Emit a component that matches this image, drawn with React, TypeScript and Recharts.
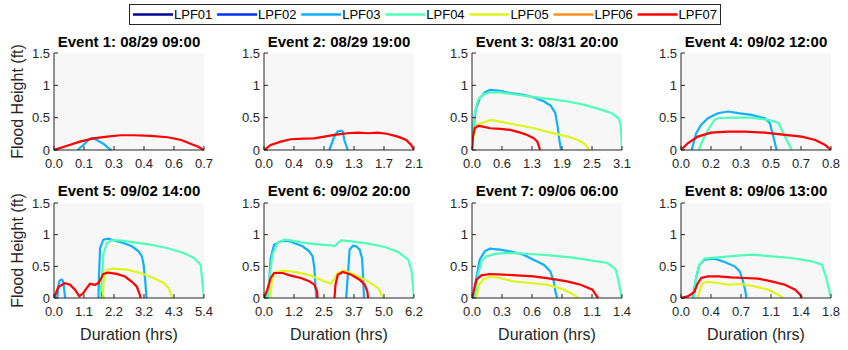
import React from 'react';
import { LineChart, Line, XAxis, YAxis, CartesianGrid, Label } from 'recharts';

const FONT = '"Liberation Sans", Arial, Helvetica, sans-serif';

const SERIES = ['LPF01', 'LPF02', 'LPF03', 'LPF04', 'LPF05', 'LPF06', 'LPF07'];
const COLORS = ['#000090', '#0030ff', '#10b0ff', '#50ffb8', '#e0f520', '#ff9020', '#ff0000'];

const EVENT_TITLES = [
  'Event 1: 08/29 09:00',
  'Event 2: 08/29 19:00',
  'Event 3: 08/31 20:00',
  'Event 4: 09/02 12:00',
  'Event 5: 09/02 14:00',
  'Event 6: 09/02 20:00',
  'Event 7: 09/06 06:00',
  'Event 8: 09/06 13:00',
];
const EVENT_MAX_HRS = [0.7, 2.14, 3.14, 0.83, 5.4, 6.2, 1.4, 1.8];
const X_TICK_LABELS = [
  ['0.0', '0.1', '0.3', '0.4', '0.6', '0.7'],
  ['0.0', '0.4', '0.9', '1.3', '1.7', '2.1'],
  ['0.0', '0.6', '1.3', '1.9', '2.5', '3.1'],
  ['0.0', '0.2', '0.3', '0.5', '0.7', '0.8'],
  ['0.0', '1.1', '2.2', '3.2', '4.3', '5.4'],
  ['0.0', '1.2', '2.5', '3.7', '5.0', '6.2'],
  ['0.0', '0.3', '0.6', '0.8', '1.1', '1.4'],
  ['0.0', '0.4', '0.7', '1.1', '1.4', '1.8'],
];
const Y_TICKS = [0, 0.5, 1, 1.5];
const Y_TICK_LABELS = ['0', '0.5', '1', '1.5'];
const Y_LABEL = 'Flood Height (ft)';
const X_LABEL = 'Duration (hrs)';

type Pt = [number, number | null];

// Event 1
const ev1_lpf03: Pt[] = [[0.110, 0], [0.137, 0.078], [0.161, 0.155], [0.177, 0.186], [0.200, 0.155], [0.232, 0.093], [0.255, 0.026], [0.268, 0]];
const ev1_lpf07: Pt[] = [[0, 0], [0.058, 0.062], [0.121, 0.13], [0.184, 0.18], [0.248, 0.207], [0.31, 0.228], [0.374, 0.228], [0.452, 0.217], [0.531, 0.197], [0.594, 0.155], [0.634, 0.10], [0.673, 0.05], [0.7, 0]];
// Event 2
const ev2_lpf03: Pt[] = [[0.931, 0], [1.003, 0.207], [1.051, 0.285], [1.099, 0.30], [1.123, 0.285], [1.146, 0.155], [1.194, 0]];
const ev2_lpf07: Pt[] = [[0, 0], [0.096, 0.078], [0.239, 0.129], [0.382, 0.166], [0.573, 0.176], [0.717, 0.181], [0.86, 0.207], [1.003, 0.233], [1.194, 0.259], [1.338, 0.269], [1.481, 0.259], [1.624, 0.269], [1.767, 0.248], [1.911, 0.207], [2.03, 0.155], [2.10, 0.078], [2.14, 0]];
// Event 3
const ev3_lpf03: Pt[] = [[0, 0], [0.035, 0.362], [0.078, 0.621], [0.163, 0.80], [0.269, 0.89], [0.376, 0.931], [0.588, 0.916], [0.801, 0.879], [1.084, 0.854], [1.297, 0.812], [1.51, 0.75], [1.652, 0.683], [1.744, 0.569], [1.793, 0.362], [1.829, 0.155], [1.864, 0]];
const ev3_lpf04: Pt[] = [[0, 0], [0.021, 0.31], [0.057, 0.569], [0.128, 0.776], [0.234, 0.854], [0.376, 0.89], [0.588, 0.89], [0.943, 0.854], [1.297, 0.817], [1.652, 0.786], [2.006, 0.75], [2.36, 0.698], [2.715, 0.621], [2.927, 0.569], [3.069, 0.491], [3.105, 0.414], [3.126, 0.207], [3.14, 0]];
const ev3_lpf05: Pt[] = [[0, 0], [0.035, 0.259], [0.092, 0.388], [0.234, 0.424], [0.411, 0.466], [0.588, 0.44], [0.943, 0.388], [1.297, 0.336], [1.652, 0.269], [2.006, 0.207], [2.219, 0.155], [2.36, 0.093], [2.452, 0]];
const ev3_lpf07: Pt[] = [[0, 0], [0.021, 0.207], [0.057, 0.336], [0.128, 0.372], [0.234, 0.362], [0.376, 0.336], [0.588, 0.326], [0.801, 0.31], [1.014, 0.269], [1.155, 0.233], [1.297, 0.181], [1.368, 0.129], [1.403, 0.052], [1.425, 0]];
// Event 4
const ev4_lpf03: Pt[] = [[0.059, 0], [0.084, 0.259], [0.111, 0.388], [0.149, 0.491], [0.204, 0.569], [0.26, 0.595], [0.316, 0.569], [0.39, 0.543], [0.464, 0.491], [0.492, 0.414], [0.511, 0.207], [0.529, 0]];
const ev4_lpf04: Pt[] = [[0.098, 0], [0.121, 0.155], [0.149, 0.31], [0.186, 0.466], [0.204, 0.491], [0.279, 0.502], [0.39, 0.502], [0.483, 0.466], [0.538, 0.424], [0.566, 0.259], [0.594, 0.103], [0.613, 0]];
const ev4_lpf07: Pt[] = [[0, 0], [0.037, 0.103], [0.093, 0.207], [0.167, 0.269], [0.26, 0.285], [0.353, 0.285], [0.464, 0.269], [0.576, 0.233], [0.668, 0.207], [0.743, 0.155], [0.798, 0.078], [0.83, 0]];
// Event 5
const ev5_lpf01: Pt[] = [[1.66, 0], [1.70, 0.08], [1.74, 0.06], [1.78, 0]];
const ev5_lpf03: Pt[] = [[0.12, 0], [0.16, 0.2], [0.2, 0.27], [0.26, 0.29], [0.31, 0.28], [0.35, 0.2], [0.40, 0], [0.9, null], [1.6, 0], [1.62, 0.368], [1.66, 0.789], [1.776, 0.921], [1.957, 0.937], [2.199, 0.905], [2.501, 0.868], [2.803, 0.816], [3.044, 0.737], [3.165, 0.658], [3.226, 0.526], [3.286, 0.263], [3.33, 0]];
const ev5_lpf04: Pt[] = [[1.655, 0], [1.716, 0.263], [1.776, 0.684], [1.897, 0.868], [2.078, 0.911], [2.38, 0.911], [2.863, 0.879], [3.467, 0.842], [4.07, 0.789], [4.675, 0.711], [5.037, 0.632], [5.279, 0.526], [5.34, 0.263], [5.4, 0]];
const ev5_lpf05: Pt[] = [[1.752, 0], [1.8, 0.316], [1.897, 0.447], [2.138, 0.463], [2.622, 0.447], [3.105, 0.395], [3.588, 0.316], [3.95, 0.237], [4.131, 0.158], [4.252, 0]];
const ev5_lpf07: Pt[] = [[0, 0], [0.156, 0.173], [0.396, 0.235], [0.576, 0.209], [0.756, 0.13], [0.912, 0.025], [1.056, 0.078], [1.176, 0.157], [1.296, 0.224], [1.476, 0.209], [1.596, 0.235], [1.68, 0.298], [1.776, 0.381], [1.956, 0.402], [2.256, 0.381], [2.556, 0.339], [2.796, 0.26], [2.976, 0.182], [3.07, 0.078], [3.12, 0]];
// Event 6
const ev6_lpf03: Pt[] = [[0.139, 0], [0.208, 0.21], [0.277, 0.632], [0.416, 0.842], [0.694, 0.895], [0.971, 0.905], [1.248, 0.868], [1.595, 0.816], [1.872, 0.737], [2.011, 0.658], [2.081, 0.474], [2.122, 0.21], [2.164, 0], [2.8, null], [3.398, 0], [3.468, 0.368], [3.537, 0.763], [3.676, 0.826], [3.814, 0.816], [3.953, 0.763], [4.05, 0.632], [4.092, 0.368], [4.133, 0]];
const ev6_lpf04: Pt[] = [[0.139, 0], [0.25, 0.368], [0.347, 0.684], [0.555, 0.868], [0.832, 0.921], [1.11, 0.911], [1.526, 0.879], [1.942, 0.858], [2.358, 0.842], [2.774, 0.832], [2.913, 0.816], [3.051, 0.868], [3.19, 0.911], [3.607, 0.895], [4.3, 0.858], [4.993, 0.805], [5.548, 0.726], [5.964, 0.605], [6.103, 0.421], [6.2, 0]];
const ev6_lpf05: Pt[] = [[0.25, 0], [0.347, 0.316], [0.486, 0.411], [0.832, 0.432], [1.387, 0.405], [1.942, 0.353], [2.497, 0.263], [2.774, 0.221], [3.051, 0.395], [3.329, 0.432], [3.745, 0.368], [4.3, 0.263], [4.716, 0.158], [4.924, 0]];
const ev6_lpf07: Pt[] = [[0, 0], [0.139, 0.132], [0.277, 0.316], [0.416, 0.395], [0.763, 0.395], [1.11, 0.353], [1.526, 0.316], [1.872, 0.263], [2.081, 0.21], [2.192, 0.105], [2.219, 0], [2.6, null], [2.913, 0], [2.954, 0.21], [3.051, 0.368], [3.259, 0.411], [3.607, 0.368], [3.953, 0.289], [4.161, 0.21], [4.272, 0.105], [4.3, 0]];
// Event 7
const ev7_lpf03: Pt[] = [[0.009, 0], [0.041, 0.316], [0.072, 0.605], [0.119, 0.737], [0.166, 0.779], [0.261, 0.763], [0.355, 0.737], [0.48, 0.684], [0.574, 0.605], [0.669, 0.526], [0.731, 0.421], [0.763, 0.263], [0.778, 0.105], [0.794, 0]];
const ev7_lpf04: Pt[] = [[0.025, 0], [0.057, 0.368], [0.088, 0.579], [0.135, 0.658], [0.229, 0.7], [0.355, 0.711], [0.543, 0.695], [0.731, 0.674], [0.92, 0.642], [1.108, 0.595], [1.265, 0.553], [1.343, 0.447], [1.375, 0.21], [1.397, 0]];
const ev7_lpf05: Pt[] = [[0.041, 0], [0.066, 0.21], [0.104, 0.289], [0.166, 0.342], [0.261, 0.316], [0.386, 0.263], [0.543, 0.237], [0.7, 0.21], [0.857, 0.132], [0.951, 0.053], [0.992, 0]];
const ev7_lpf07: Pt[] = [[0, 0], [0.016, 0.105], [0.041, 0.289], [0.088, 0.358], [0.166, 0.379], [0.292, 0.368], [0.418, 0.358], [0.574, 0.342], [0.731, 0.305], [0.888, 0.263], [1.014, 0.21], [1.124, 0.132], [1.155, 0.053], [1.177, 0]];
// Event 8
const ev8_lpf03: Pt[] = [[0.141, 0], [0.181, 0.316], [0.221, 0.526], [0.282, 0.605], [0.403, 0.621], [0.523, 0.568], [0.644, 0.5], [0.705, 0.421], [0.745, 0.263], [0.773, 0.105], [0.785, 0]];
const ev8_lpf04: Pt[] = [[0.153, 0], [0.181, 0.316], [0.221, 0.526], [0.282, 0.621], [0.443, 0.642], [0.685, 0.668], [0.846, 0.684], [1.087, 0.658], [1.329, 0.632], [1.571, 0.579], [1.691, 0.526], [1.732, 0.368], [1.772, 0.158], [1.8, 0]];
const ev8_lpf05: Pt[] = [[0.201, 0], [0.234, 0.158], [0.262, 0.237], [0.322, 0.253], [0.443, 0.237], [0.564, 0.21], [0.725, 0.221], [0.886, 0.184], [1.047, 0.132], [1.168, 0.053], [1.228, 0]];
const ev8_lpf07: Pt[] = [[0, 0], [0.081, 0.026], [0.161, 0.095], [0.193, 0.21], [0.242, 0.316], [0.322, 0.342], [0.443, 0.342], [0.604, 0.326], [0.765, 0.316], [0.926, 0.305], [1.087, 0.263], [1.248, 0.21], [1.369, 0.132], [1.43, 0.053], [1.45, 0]];

const EVENT_CURVES: Record<string, Pt[]>[] = [
  { LPF03: ev1_lpf03, LPF07: ev1_lpf07 },
  { LPF03: ev2_lpf03, LPF07: ev2_lpf07 },
  { LPF03: ev3_lpf03, LPF04: ev3_lpf04, LPF05: ev3_lpf05, LPF07: ev3_lpf07 },
  { LPF03: ev4_lpf03, LPF04: ev4_lpf04, LPF07: ev4_lpf07 },
  { LPF01: ev5_lpf01, LPF03: ev5_lpf03, LPF04: ev5_lpf04, LPF05: ev5_lpf05, LPF07: ev5_lpf07 },
  { LPF03: ev6_lpf03, LPF04: ev6_lpf04, LPF05: ev6_lpf05, LPF07: ev6_lpf07 },
  { LPF03: ev7_lpf03, LPF04: ev7_lpf04, LPF05: ev7_lpf05, LPF07: ev7_lpf07 },
  { LPF03: ev8_lpf03, LPF04: ev8_lpf04, LPF05: ev8_lpf05, LPF07: ev8_lpf07 },
];

// layout
const PLOT_LEFTS = [54, 264, 472, 681];
const PLOT_TOPS = [53, 203];
const PLOT_HEIGHTS = [97, 95];
const PLOT_W = 150;
const Y_AXIS_W = 54;
const RIGHT_M = 16;
const TOP_M = 25;
const AXIS_COLOR = '#262626';

function Panel({ idx }: { idx: number }) {
  const col = idx % 4;
  const row = Math.floor(idx / 4);
  const plotLeft = PLOT_LEFTS[col];
  const plotTop = PLOT_TOPS[row];
  const plotH = PLOT_HEIGHTS[row];
  const xAxisH = row === 0 ? 25 : 50;
  const chartLeft = plotLeft - Y_AXIS_W;
  const chartTop = plotTop - TOP_M;
  const width = Y_AXIS_W + PLOT_W + RIGHT_M;
  const height = TOP_M + plotH + xAxisH;
  const max = EVENT_MAX_HRS[idx];
  const labels = X_TICK_LABELS[idx];
  const xTicks = labels.map((_, i) => (max * i) / (labels.length - 1));
  const curves = EVENT_CURVES[idx];
  const tickStyle = { fontSize: 13, fill: AXIS_COLOR, fontFamily: FONT };

  return (
    <div style={{ position: 'absolute', left: chartLeft, top: chartTop, width, height }}>
      <LineChart width={width} height={height} margin={{ top: TOP_M, right: RIGHT_M, bottom: 0, left: 0 }}>
        <CartesianGrid xAxisId="b" yAxisId="l" horizontal={false} vertical={false} fill="#f7f7f7" fillOpacity={1} />
        <XAxis
          xAxisId="b"
          type="number"
          dataKey="t"
          domain={[0, max]}
          allowDataOverflow
          ticks={xTicks}
          interval={0}
          height={xAxisH}
          tickSize={-4}
          tickMargin={13}
          tick={tickStyle}
          tickFormatter={(_v: number, i: number) => labels[i]}
          stroke={AXIS_COLOR}
          axisLine={{ stroke: AXIS_COLOR, strokeWidth: 1 }}
          tickLine={{ stroke: AXIS_COLOR }}
        >
          {row === 1 && (
            <Label
              content={() => (
                <text
                  x={Y_AXIS_W + PLOT_W / 2}
                  y={TOP_M + plotH + 36}
                  textAnchor="middle"
                  dominantBaseline="central"
                  fontSize={16}
                  fill={AXIS_COLOR}
                  fontFamily={FONT}
                >
                  {X_LABEL}
                </text>
              )}
            />
          )}
        </XAxis>
        <XAxis
          xAxisId="t"
          orientation="top"
          type="number"
          domain={[0, max]}
          allowDataOverflow
          ticks={xTicks}
          interval={0}
          height={0}
          tickSize={-4}
          tick={false}
          axisLine={{ stroke: AXIS_COLOR, strokeWidth: 1 }}
          tickLine={{ stroke: AXIS_COLOR }}
        />
        <YAxis
          yAxisId="l"
          type="number"
          domain={[0, 1.5]}
          ticks={Y_TICKS}
          interval={0}
          width={Y_AXIS_W}
          tickSize={-4}
          tickMargin={8}
          tick={tickStyle}
          tickFormatter={(_v: number, i: number) => Y_TICK_LABELS[i]}
          axisLine={{ stroke: AXIS_COLOR, strokeWidth: 1 }}
          tickLine={{ stroke: AXIS_COLOR }}
        >
          {col === 0 && (
            <Label
              content={() => {
                const cy = TOP_M + plotH / 2;
                return (
                  <text
                    x={17}
                    y={cy}
                    transform={`rotate(-90 17 ${cy})`}
                    textAnchor="middle"
                    dominantBaseline="central"
                    fontSize={16}
                    fill={AXIS_COLOR}
                    fontFamily={FONT}
                  >
                    {Y_LABEL}
                  </text>
                );
              }}
            />
          )}
        </YAxis>
        <YAxis
          yAxisId="r"
          orientation="right"
          type="number"
          domain={[0, 1.5]}
          ticks={Y_TICKS}
          interval={0}
          width={0}
          tickSize={-4}
          tick={false}
          axisLine={{ stroke: AXIS_COLOR, strokeWidth: 1 }}
          tickLine={{ stroke: AXIS_COLOR }}
        />
        {SERIES.map((name, si) => {
          const pts = curves[name];
          if (!pts) return null;
          return (
            <Line
              key={name}
              xAxisId="b"
              yAxisId="l"
              data={pts.map(([t, v]) => ({ t, v }))}
              dataKey="v"
              type="linear"
              stroke={COLORS[si]}
              strokeWidth={2.2}
              dot={false}
              activeDot={false}
              isAnimationActive={false}
              connectNulls={false}
            />
          );
        })}
      </LineChart>
      <div
        style={{
          position: 'absolute',
          left: Y_AXIS_W,
          top: row === 0 ? 6 : 5,
          width: PLOT_W,
          textAlign: 'center',
          fontFamily: FONT,
          fontWeight: 'bold',
          fontSize: 15,
          lineHeight: '15px',
          color: '#000',
          whiteSpace: 'nowrap',
        }}
      >
        {EVENT_TITLES[idx]}
      </div>
    </div>
  );
}

function LegendBox() {
  const w = 591;
  const h = 20;
  const pitch = 84.1;
  return (
    <svg style={{ position: 'absolute', left: 129, top: 4 }} width={w + 1} height={h + 1}>
      <rect x={0.5} y={0.5} width={w} height={h} fill="#fff" stroke={AXIS_COLOR} strokeWidth={1} />
      {SERIES.map((name, i) => {
        const x0 = 4 + i * pitch;
        return (
          <g key={name}>
            <line x1={x0} x2={x0 + 40} y1={10.5} y2={10.5} stroke={COLORS[i]} strokeWidth={2.5} />
            <text x={x0 + 41} y={10.5} dominantBaseline="central" fontSize={13} fontFamily={FONT} fill="#000">
              {name}
            </text>
          </g>
        );
      })}
    </svg>
  );
}

export default function App() {
  return (
    <div
      style={{
        position: 'absolute',
        left: 0,
        top: 0,
        width: 848,
        height: 350,
        background: '#fff',
        overflow: 'hidden',
        fontFamily: FONT,
      }}
    >
      {EVENT_TITLES.map((_, i) => (
        <Panel key={i} idx={i} />
      ))}
      <LegendBox />
    </div>
  );
}
